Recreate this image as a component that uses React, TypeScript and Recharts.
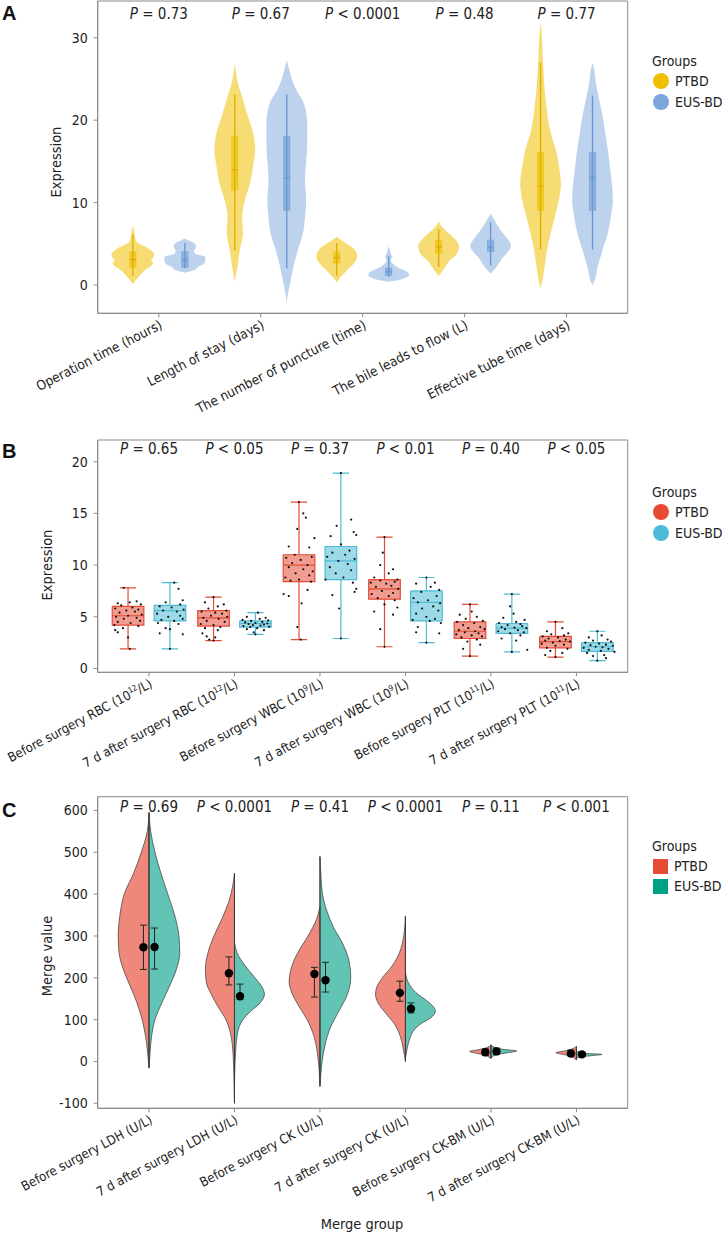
import React from "react";
import { ComposedChart, Area, Line, Scatter, XAxis, YAxis, ReferenceArea } from "recharts";

const FONT = "'DejaVu Sans Condensed', 'Liberation Sans', Arial, sans-serif";
const INK = "#222222";
const FRAME = "#8a8a8a";

type Prof = [number, number][];

// ---------- Panel A : violin + inner box ----------
const aCategories = [
  "Operation time (hours)",
  "Length of stay (days)",
  "The number of puncture (time)",
  "The bile leads to flow (L)",
  "Effective tube time (days)",
];
const aPValues = ["= 0.73", "= 0.67", "< 0.0001", "= 0.48", "= 0.77"];
// density profile: [value, half width]
const aPtbdViolin: Prof[] = [
  [[7.1, 0], [6.6, 0.012], [6.0, 0.02], [5.4, 0.03], [5.0, 0.06], [4.6, 0.13], [4.2, 0.18], [3.7, 0.21], [3.3, 0.2], [3.0, 0.18], [2.7, 0.2], [2.3, 0.18], [1.8, 0.12], [1.2, 0.07], [0.6, 0.03], [0.1, 0]],
  [[26.9, 0], [25.5, 0.015], [24.5, 0.03], [22.5, 0.08], [20.4, 0.13], [18.4, 0.18], [16.4, 0.2], [14.4, 0.18], [12.3, 0.15], [10.3, 0.1], [8.3, 0.072], [6.3, 0.08], [4.3, 0.05], [2.2, 0.026], [0.4, 0]],
  [[5.9, 0], [5.5, 0.04], [5.0, 0.1], [4.5, 0.16], [4.0, 0.19], [3.5, 0.2], [3.0, 0.19], [2.5, 0.16], [2.0, 0.12], [1.5, 0.08], [1.0, 0.04], [0.3, 0]],
  [[7.7, 0], [7.1, 0.03], [6.5, 0.08], [5.7, 0.15], [4.7, 0.2], [3.8, 0.18], [3.0, 0.11], [2.2, 0.065], [1.5, 0.025], [1.1, 0]],
  [[31.8, 0], [30.6, 0.01], [26.5, 0.026], [22.5, 0.05], [18.4, 0.1], [16.4, 0.15], [14.4, 0.18], [12.3, 0.2], [10.3, 0.18], [8.3, 0.14], [6.3, 0.1], [4.3, 0.065], [2.2, 0.04], [0.2, 0.013], [-0.4, 0]],
];
const aEusViolin: Prof[] = [
  [[5.6, 0], [5.4, 0.04], [5.0, 0.1], [4.6, 0.11], [4.2, 0.09], [3.8, 0.1], [3.4, 0.2], [3.0, 0.2], [2.6, 0.19], [2.2, 0.13], [1.8, 0.09], [1.5, 0]],
  [[27.3, 0], [26.5, 0.016], [25.0, 0.05], [23.5, 0.1], [22.5, 0.15], [21, 0.19], [19.5, 0.2], [17, 0.2], [15, 0.19], [13.2, 0.18], [12.3, 0.18], [10.3, 0.19], [8.3, 0.18], [6.3, 0.16], [4.3, 0.11], [2.2, 0.065], [0.2, 0.033], [-1.2, 0.01], [-2.2, 0]],
  [[4.7, 0], [4.3, 0.01], [3.8, 0.02], [3.4, 0.035], [3.0, 0.02], [2.6, 0.04], [2.2, 0.08], [1.8, 0.15], [1.5, 0.19], [1.2, 0.2], [0.9, 0.17], [0.6, 0.1], [0.4, 0]],
  [[8.7, 0], [8.0, 0.03], [7.2, 0.07], [6.3, 0.12], [5.5, 0.17], [4.8, 0.2], [4.0, 0.17], [3.2, 0.11], [2.4, 0.07], [1.8, 0.03], [1.4, 0]],
  [[26.9, 0], [26.5, 0.01], [24.5, 0.033], [22.5, 0.065], [20.4, 0.1], [18.4, 0.125], [16.4, 0.15], [14.4, 0.17], [12.3, 0.19], [10.3, 0.2], [8.3, 0.18], [6.3, 0.15], [4.3, 0.1], [2.2, 0.05], [0.2, 0.01], [0, 0]],
];
// [low, q1, median, q3, high]
const aPtbdBox = [[1.1, 2.1, 3.1, 4.1, 6.1], [4.2, 11.5, 14.0, 18.1, 23.1], [1.1, 2.6, 3.3, 4.1, 5.1], [2.2, 3.8, 4.6, 5.5, 6.8], [4.3, 9.0, 12.0, 16.1, 27.0]];
const aEusBox = [[2.0, 2.1, 3.1, 4.1, 5.1], [2.0, 9.0, 13.0, 18.1, 23.1], [1.0, 1.1, 1.6, 2.1, 3.5], [2.4, 4.0, 4.6, 5.5, 7.6], [4.3, 9.0, 13.0, 16.1, 23.0]];

// ---------- Panel B : box + jitter ----------
const bCategories = [
  "Before surgery RBC (10^12/L)",
  "7 d after surgery RBC (10^12/L)",
  "Before surgery WBC (10^9/L)",
  "7 d after surgery WBC (10^9/L)",
  "Before surgery PLT (10^11/L)",
  "7 d after surgery PLT (10^11/L)",
];
const bPValues = ["= 0.65", "< 0.05", "= 0.37", "< 0.01", "= 0.40", "< 0.05"];
const bPtbdBox = [[1.9, 4.2, 5.1, 6.0, 7.8], [2.7, 4.1, 4.9, 5.6, 6.9], [2.8, 8.4, 10.0, 11.0, 16.1], [2.1, 6.7, 7.7, 8.6, 12.7], [1.2, 2.9, 3.6, 4.5, 6.2], [1.1, 2.0, 2.6, 3.1, 4.5]];
const bEusBox = [[1.9, 4.6, 5.6, 6.1, 8.3], [3.3, 4.0, 4.35, 4.6, 5.4], [2.9, 8.6, 10.4, 11.8, 18.9], [2.5, 4.6, 6.4, 7.5, 8.8], [1.6, 3.4, 3.9, 4.35, 7.2], [0.75, 1.65, 2.1, 2.5, 3.6]];
// jittered observations: [offset, value]
const bPtbdPoints: Prof[] = [
  [[-0.05, 7.8], [0.1, 6.5], [0.02, 6.4], [-0.12, 6.3], [0.15, 6.2], [-0.08, 6.1], [0.05, 5.9], [-0.15, 5.8], [0.12, 5.7], [-0.02, 5.6], [0.08, 5.5], [-0.1, 5.4], [0.16, 5.2], [0.0, 5.1], [-0.14, 5.0], [0.1, 4.9], [-0.05, 4.8], [0.14, 4.6], [-0.12, 4.5], [0.03, 4.4], [-0.16, 4.2], [0.12, 4.1], [-0.06, 3.9], [-0.15, 3.7], [-0.12, 3.5], [0.0, 3.0], [0.02, 1.9]],
  [[0.0, 6.9], [-0.1, 6.4], [0.12, 6.2], [0.05, 6.0], [-0.06, 5.8], [0.15, 5.6], [-0.14, 5.5], [0.02, 5.4], [0.1, 5.3], [-0.03, 5.1], [0.16, 5.0], [-0.12, 4.9], [0.06, 4.8], [-0.08, 4.6], [0.13, 4.5], [-0.15, 4.3], [0.0, 4.2], [0.08, 4.0], [-0.1, 3.9], [0.05, 3.7], [-0.13, 3.4], [-0.08, 3.1], [0.02, 3.0], [-0.05, 2.8], [0.0, 2.7]],
  [[0.0, 16.1], [0.05, 15.0], [0.08, 14.6], [-0.02, 13.5], [0.18, 12.6], [-0.12, 11.8], [0.12, 11.7], [-0.05, 11.0], [0.15, 10.8], [-0.15, 10.7], [0.02, 10.5], [-0.08, 10.2], [0.1, 10.0], [-0.12, 9.8], [0.05, 9.6], [0.16, 9.4], [-0.04, 9.2], [0.12, 9.0], [-0.16, 8.8], [0.0, 8.6], [-0.1, 8.5], [0.14, 8.4], [-0.18, 7.2], [-0.12, 7.0], [0.1, 7.6], [0.03, 6.3], [-0.02, 4.0], [0.02, 2.8]],
  [[0.0, 12.7], [-0.02, 11.2], [-0.05, 10.0], [0.1, 9.6], [0.05, 9.2], [-0.12, 8.8], [0.15, 8.6], [-0.05, 8.5], [0.12, 8.4], [-0.16, 8.3], [0.02, 8.2], [0.08, 8.0], [-0.1, 7.9], [0.16, 7.7], [-0.03, 7.5], [0.1, 7.3], [-0.15, 7.2], [0.05, 7.0], [-0.08, 6.8], [0.12, 6.6], [0.0, 6.2], [0.15, 5.9], [-0.12, 5.5], [0.1, 5.2], [-0.05, 3.8], [0.0, 2.1]],
  [[0.0, 6.2], [0.02, 5.5], [-0.12, 5.2], [0.08, 5.0], [-0.05, 4.8], [0.15, 4.6], [-0.15, 4.5], [0.05, 4.4], [-0.08, 4.2], [0.12, 4.0], [-0.02, 3.9], [0.17, 3.8], [-0.13, 3.7], [0.06, 3.6], [-0.06, 3.5], [0.1, 3.4], [-0.16, 3.3], [0.02, 3.2], [0.14, 3.1], [-0.1, 3.0], [0.08, 2.8], [-0.03, 2.6], [0.12, 2.3], [-0.08, 1.9], [0.0, 1.2]],
  [[0.0, 4.5], [0.08, 3.9], [-0.1, 3.6], [0.15, 3.4], [-0.05, 3.3], [0.1, 3.2], [-0.15, 3.1], [0.03, 3.0], [-0.08, 2.9], [0.12, 2.8], [-0.12, 2.7], [0.05, 2.65], [0.17, 2.6], [-0.03, 2.5], [-0.16, 2.4], [0.1, 2.3], [0.0, 2.2], [-0.1, 2.0], [0.14, 1.9], [-0.06, 1.7], [0.08, 1.5], [-0.12, 1.3], [0.0, 1.1]],
];
const bEusPoints: Prof[] = [
  [[0.05, 8.3], [0.1, 7.7], [0.15, 6.6], [-0.05, 6.4], [0.12, 6.2], [-0.12, 6.0], [0.02, 5.9], [0.16, 5.7], [-0.08, 5.6], [0.08, 5.5], [-0.15, 5.3], [0.12, 5.1], [-0.02, 5.0], [0.15, 4.8], [-0.1, 4.7], [0.05, 4.6], [-0.14, 4.4], [0.1, 4.3], [-0.05, 3.9], [0.0, 3.8], [-0.12, 3.4], [0.15, 3.3], [0.0, 1.9]],
  [[0.03, 5.4], [-0.1, 5.0], [0.12, 4.9], [0.05, 4.8], [-0.15, 4.7], [0.15, 4.65], [-0.05, 4.6], [0.08, 4.5], [-0.12, 4.45], [0.0, 4.4], [0.14, 4.35], [-0.08, 4.3], [0.1, 4.25], [-0.03, 4.2], [0.06, 4.15], [-0.14, 4.1], [0.16, 4.05], [-0.06, 4.0], [0.02, 3.9], [-0.1, 3.8], [0.1, 3.7], [-0.02, 3.5], [0.0, 3.3]],
  [[0.0, 18.9], [0.12, 14.4], [-0.05, 13.8], [0.15, 13.2], [0.18, 12.9], [-0.12, 12.8], [0.0, 12.0], [0.1, 11.4], [-0.1, 11.2], [0.05, 11.0], [-0.16, 10.8], [0.16, 10.6], [-0.03, 10.4], [0.08, 10.1], [-0.13, 9.8], [0.12, 9.5], [-0.06, 9.2], [0.03, 8.8], [-0.18, 8.6], [0.14, 8.3], [0.18, 7.7], [0.16, 7.4], [-0.1, 7.1], [-0.02, 5.8], [0.0, 2.9]],
  [[0.0, 8.8], [0.1, 8.3], [-0.12, 8.2], [0.05, 7.9], [0.15, 7.6], [-0.06, 7.4], [0.12, 7.0], [-0.15, 6.8], [0.02, 6.6], [-0.1, 6.4], [0.16, 6.3], [0.08, 6.0], [-0.05, 5.8], [0.14, 5.6], [-0.12, 5.3], [0.0, 5.0], [0.1, 4.8], [-0.16, 4.7], [0.04, 4.6], [0.17, 4.4], [-0.1, 4.0], [0.15, 3.4], [-0.12, 3.5], [0.0, 2.5]],
  [[0.0, 7.2], [-0.02, 6.0], [0.02, 5.3], [-0.1, 4.9], [0.15, 4.7], [0.05, 4.5], [-0.15, 4.4], [0.1, 4.3], [-0.05, 4.2], [0.12, 4.1], [-0.12, 4.0], [0.03, 3.95], [0.17, 3.9], [-0.08, 3.8], [0.07, 3.7], [-0.16, 3.6], [0.14, 3.5], [-0.02, 3.4], [0.1, 3.2], [-0.12, 2.9], [0.05, 2.7], [0.18, 1.8], [0.0, 1.6]],
  [[0.0, 3.6], [0.05, 3.2], [-0.1, 3.0], [0.12, 2.8], [-0.05, 2.7], [0.16, 2.6], [-0.14, 2.5], [0.02, 2.4], [0.1, 2.3], [-0.08, 2.25], [0.18, 2.2], [-0.02, 2.1], [0.06, 2.05], [-0.16, 2.0], [0.13, 1.9], [-0.1, 1.8], [0.04, 1.7], [0.2, 1.6], [-0.12, 1.5], [0.08, 1.3], [-0.05, 1.2], [0.1, 1.0], [0.0, 0.75]],
];

// ---------- Panel C : split violin + mean/error ----------
const cCategories = [
  "Before surgery LDH (U/L)",
  "7 d after surgery LDH (U/L)",
  "Before surgery CK (U/L)",
  "7 d after surgery CK (U/L)",
  "Before surgery CK-BM (U/L)",
  "7 d after surgery CK-BM (U/L)",
];
const cPValues = ["= 0.69", "< 0.0001", "= 0.41", "< 0.0001", "= 0.11", "< 0.001"];
const cPtbdViolin: Prof[] = [
  [[595, 0], [550, 0.02], [500, 0.09], [450, 0.18], [400, 0.29], [350, 0.34], [300, 0.36], [260, 0.35], [220, 0.3], [180, 0.22], [140, 0.14], [100, 0.08], [60, 0.04], [20, 0.015], [-15, 0]],
  [[450, 0], [420, 0.02], [380, 0.07], [340, 0.15], [300, 0.24], [260, 0.31], [220, 0.34], [190, 0.33], [160, 0.27], [130, 0.19], [100, 0.1], [70, 0.05], [40, 0.025], [0, 0.012], [-50, 0.005], [-100, 0]],
  [[370, 0], [340, 0.04], [300, 0.14], [260, 0.26], [220, 0.34], [190, 0.36], [160, 0.32], [130, 0.24], [100, 0.15], [60, 0.07], [20, 0.03], [-20, 0.01], [-55, 0]],
  [[348, 0], [300, 0.02], [260, 0.07], [230, 0.15], [200, 0.27], [175, 0.34], [160, 0.35], [140, 0.32], [115, 0.23], [90, 0.13], [60, 0.06], [30, 0.025], [0, 0]],
  [[38, 0], [33, 0.05], [28, 0.15], [24, 0.25], [20, 0.18], [15, 0.07], [10, 0.02], [7, 0]],
  [[36, 0], [30, 0.05], [25, 0.14], [21, 0.24], [17, 0.16], [12, 0.06], [7, 0.02], [4, 0]],
];
const cEusViolin: Prof[] = [
  [[595, 0], [550, 0.02], [500, 0.07], [450, 0.14], [400, 0.22], [350, 0.3], [300, 0.35], [260, 0.36], [220, 0.32], [180, 0.24], [140, 0.15], [100, 0.07], [60, 0.03], [20, 0.012], [-15, 0]],
  [[285, 0], [260, 0.03], [230, 0.12], [200, 0.24], [175, 0.33], [160, 0.35], [140, 0.3], [120, 0.19], [100, 0.1], [80, 0.05], [60, 0.03], [30, 0.015], [0, 0.007], [-50, 0]],
  [[490, 0], [450, 0.01], [400, 0.03], [360, 0.08], [320, 0.16], [280, 0.27], [240, 0.34], [200, 0.36], [160, 0.32], [120, 0.22], [80, 0.12], [40, 0.06], [0, 0.025], [-30, 0.01], [-60, 0]],
  [[215, 0], [190, 0.03], [165, 0.12], [145, 0.25], [130, 0.33], [120, 0.35], [105, 0.3], [90, 0.18], [75, 0.1], [60, 0.06], [40, 0.03], [20, 0.01], [10, 0]],
  [[40, 0], [34, 0.04], [29, 0.14], [25, 0.3], [21, 0.2], [16, 0.06], [10, 0.01], [8, 0]],
  [[26, 0], [22, 0.04], [19, 0.12], [17, 0.3], [14, 0.18], [11, 0.06], [8, 0]],
];
const cPtbdMean = [273, 211, 209, 164, 22, 19];
const cPtbdLow = [220, 183, 154, 144, 14, 13];
const cPtbdHigh = [326, 250, 225, 192, 30, 27];
const cEusMean = [273.5, 156, 194, 126, 24, 17];
const cEusLow = [221, 148, 166, 116, 17, 13];
const cEusHigh = [319, 185, 237, 140, 32, 22];

// ---------- helpers ----------
type Seg = [number, number][];

const fullViolin = (p: Prof, c: number) => p.map(([y, w]) => ({ y, x: [c - w, c + w] }));
const halfViolin = (p: Prof, c: number, side: number) => p.map(([y, w]) => ({ y, x: [c, c + side * w] }));
const boxFill = (b: number[], c: number, hw: number) => [
  { y: b[3], x: [c - hw, c + hw] },
  { y: b[1], x: [c - hw, c + hw] },
];
const segRows = (s: Seg) => s.map(([x, y]) => ({ x, y }));

function segLines(segs: Seg[], prefix: string, stroke: string, width: number) {
  return segs.map((s, i) => (
    <Line key={`${prefix}${i}`} data={segRows(s)} dataKey="x" type="linear" stroke={stroke} strokeWidth={width}
      dot={false} activeDot={false} isAnimationActive={false} />
  ));
}

function catTick(labels: string[], angle: number, fontSize: number) {
  return (props: any) => {
    const { x, y, payload } = props;
    const label = labels[Math.round(payload.value) - 1] ?? "";
    const m = label.match(/^(.*)\^(\d+)(.*)$/);
    return (
      <g transform={`translate(${x},${y})`}>
        <text textAnchor="end" transform={`rotate(${angle})`} dy="0.72em" fontSize={fontSize} fontFamily={FONT} fill={INK}>
          {m ? (
            <>
              <tspan>{m[1]}</tspan>
              <tspan dy={-5} fontSize={fontSize * 0.62}>{m[2]}</tspan>
              <tspan dy={5}>{m[3]}</tspan>
            </>
          ) : label}
        </text>
      </g>
    );
  };
}

function pTick(labels: string[], drop: number) {
  return (props: any) => {
    const { x, y, payload } = props;
    const label = labels[Math.round(payload.value) - 1] ?? "";
    return (
      <text x={x} y={y + drop} dy="0.35em" textAnchor="middle" fontSize={15} fontFamily={FONT} fill={INK}>
        <tspan fontStyle="italic">P</tspan>
        <tspan>{" " + label}</tspan>
      </text>
    );
  };
}

const dot = (r: number, color: string) => (p: any) => <circle cx={p.cx} cy={p.cy} r={r} fill={color} />;

const yTick = { fill: INK, fontSize: 14, fontFamily: FONT };

function Legend({ top, colors, square }: { top: number; colors: string[]; square?: boolean }) {
  const names = ["PTBD", "EUS-BD"];
  return (
    <div style={{ position: "absolute", left: 652, top, fontSize: 14, color: INK, whiteSpace: "nowrap" }}>
      <div style={{ height: 20, lineHeight: "20px" }}>Groups</div>
      {names.map((n, i) => (
        <div key={n} style={{ display: "flex", alignItems: "center", height: square ? 20 : 20.5 }}>
          <span
            style={{
              display: "inline-block",
              flex: "none",
              width: square ? 15 : 16,
              height: square ? 15 : 16,
              borderRadius: square ? 0 : 8,
              background: colors[i],
              marginRight: 6,
              marginLeft: 1,
            }}
          />
          <span>{n}</span>
        </div>
      ))}
    </div>
  );
}

const Letter = ({ t, top }: { t: string; top: number }) => (
  <div style={{ position: "absolute", left: 2, top, fontSize: 20, fontWeight: 700, fontFamily: "'Liberation Sans', Arial, sans-serif", color: "#111" }}>{t}</div>
);

const VTitle = ({ t, cx, cy }: { t: string; cx: number; cy: number }) => (
  <div style={{ position: "absolute", left: cx, top: cy, transform: "translate(-50%,-50%) rotate(-90deg)", whiteSpace: "nowrap", fontSize: 14.5, color: INK }}>{t}</div>
);

const axisCommon = {
  stroke: FRAME,
  tickLine: { stroke: FRAME },
  axisLine: { stroke: FRAME },
};

// ---------- panels ----------
function PanelA() {
  const off = 0.255;
  const hw = 0.03;
  const yellow = "#EFC000";
  const blue = "#7AA6DC";
  const boxSegs = (boxes: number[][], o: number): Seg[] =>
    boxes.flatMap((b, i) => {
      const c = i + 1 + o;
      return [[[c, b[0]], [c, b[4]]], [[c - hw, b[2]], [c + hw, b[2]]]] as Seg[];
    });
  return (
    <div style={{ position: "absolute", left: 0, top: 0 }}>
      <ComposedChart layout="vertical" width={722} height={440} margin={{ top: 1, right: 94.3, left: 0, bottom: 0 }}>
        <XAxis xAxisId={0} type="number" dataKey="x" domain={[0.4, 5.6]} ticks={[1, 2, 3, 4, 5]} interval={0} allowDataOverflow height={126.7}
          tickSize={4} tickMargin={2} tick={catTick(aCategories, -27, 13.5)} {...axisCommon} />
        <XAxis xAxisId="top" orientation="top" mirror type="number" domain={[0.4, 5.6]} ticks={[1, 2, 3, 4, 5]} interval={0} allowDataOverflow
          axisLine={false} tickLine={false} tickSize={0} tickMargin={0} tick={pTick(aPValues, 13)} />
        <YAxis type="number" dataKey="y" reversed domain={[-3.43, 34.45]} ticks={[0, 10, 20, 30]} allowDataOverflow width={97.7}
          tickSize={4} tickMargin={6} tick={yTick} {...axisCommon} />
        <ReferenceArea x1={0.4} x2={5.6} y1={-3.43} y2={34.45} fill="none" stroke={FRAME} ifOverflow="visible" />
        {aPtbdViolin.map((p, i) => (
          <Area key={`ap${i}`} data={fullViolin(p, i + 1 - off)} dataKey="x" type="monotone" stroke="none" fill={yellow} fillOpacity={0.55} dot={false} activeDot={false} isAnimationActive={false} />
        ))}
        {aEusViolin.map((p, i) => (
          <Area key={`ae${i}`} data={fullViolin(p, i + 1 + off)} dataKey="x" type="monotone" stroke="none" fill={blue} fillOpacity={0.5} dot={false} activeDot={false} isAnimationActive={false} />
        ))}
        {aPtbdBox.map((b, i) => (
          <Area key={`apb${i}`} data={boxFill(b, i + 1 - off, hw)} dataKey="x" type="linear" stroke={yellow} strokeOpacity={0.6} fill={yellow} fillOpacity={0.6} dot={false} activeDot={false} isAnimationActive={false} />
        ))}
        {aEusBox.map((b, i) => (
          <Area key={`aeb${i}`} data={boxFill(b, i + 1 + off, hw)} dataKey="x" type="linear" stroke="#6a98d6" strokeOpacity={0.6} fill="#6a98d6" fillOpacity={0.55} dot={false} activeDot={false} isAnimationActive={false} />
        ))}
        {segLines(boxSegs(aPtbdBox, -off), "apl", "#DDB000", 1.4)}
        {segLines(boxSegs(aEusBox, off), "ael", "#6a98d6", 1.4)}
      </ComposedChart>
    </div>
  );
}

function boxSegments(boxes: number[][], off: number, hw: number, cw: number): Seg[] {
  return boxes.flatMap((b, i) => {
    const c = i + 1 + off;
    return [
      [[c - hw, b[3]], [c + hw, b[3]], [c + hw, b[1]], [c - hw, b[1]], [c - hw, b[3]]],
      [[c - hw, b[2]], [c + hw, b[2]]],
      [[c, b[1]], [c, b[0]]],
      [[c - cw, b[0]], [c + cw, b[0]]],
      [[c, b[3]], [c, b[4]]],
      [[c - cw, b[4]], [c + cw, b[4]]],
    ] as Seg[];
  });
}

function PanelB() {
  const off = 0.245;
  const hw = 0.185;
  const cw = 0.095;
  const red = "#E64B35";
  const cyan = "#4DBBD5";
  const ptbdPts = bPtbdPoints.flatMap((pts, i) => pts.map(([dx, y]) => ({ x: i + 1 - off + dx, y })));
  const eusPts = bEusPoints.flatMap((pts, i) => pts.map(([dx, y]) => ({ x: i + 1 + off + dx, y })));
  return (
    <div style={{ position: "absolute", left: 0, top: 400 }}>
      <ComposedChart layout="vertical" width={722} height={380} margin={{ top: 40, right: 94.3, left: 0, bottom: 0 }}>
        <XAxis xAxisId={0} type="number" dataKey="x" domain={[0.4, 6.6]} ticks={[1, 2, 3, 4, 5, 6]} interval={0} allowDataOverflow height={107.7}
          tickSize={4} tickMargin={2} tick={catTick(bCategories, -28, 13)} {...axisCommon} />
        <XAxis xAxisId="top" orientation="top" mirror type="number" domain={[0.4, 6.6]} ticks={[1, 2, 3, 4, 5, 6]} interval={0} allowDataOverflow
          axisLine={false} tickLine={false} tickSize={0} tickMargin={0} tick={pTick(bPValues, 9)} />
        <YAxis type="number" dataKey="y" reversed domain={[-0.37, 22.1]} ticks={[0, 5, 10, 15, 20]} allowDataOverflow width={97.7}
          tickSize={4} tickMargin={6} tick={yTick} {...axisCommon} />
        <ReferenceArea x1={0.4} x2={6.6} y1={-0.37} y2={22.1} fill="none" stroke={FRAME} ifOverflow="visible" />
        {bPtbdBox.map((b, i) => (
          <Area key={`bp${i}`} data={boxFill(b, i + 1 - off, hw)} dataKey="x" type="linear" stroke="none" fill={red} fillOpacity={0.55} dot={false} activeDot={false} isAnimationActive={false} />
        ))}
        {bEusBox.map((b, i) => (
          <Area key={`be${i}`} data={boxFill(b, i + 1 + off, hw)} dataKey="x" type="linear" stroke="none" fill={cyan} fillOpacity={0.55} dot={false} activeDot={false} isAnimationActive={false} />
        ))}
        {segLines(boxSegments(bPtbdBox, -off, hw, cw), "bpl", red, 1.2)}
        {segLines(boxSegments(bEusBox, off, hw, cw), "bel", cyan, 1.2)}
        <Scatter data={ptbdPts} shape={dot(1.1, "#111")} isAnimationActive={false} />
        <Scatter data={eusPts} shape={dot(1.1, "#111")} isAnimationActive={false} />
      </ComposedChart>
    </div>
  );
}

function PanelC() {
  const off = 0.065;
  const cw = 0.04;
  const red = "#E64B35";
  const green = "#00A087";
  const centerSegs: Seg[] = cPtbdViolin.map((p, i) => {
    const q = cEusViolin[i];
    const hi = Math.max(p[0][0], q[0][0]);
    const lo = Math.min(p[p.length - 1][0], q[q.length - 1][0]);
    return [[i + 1, hi], [i + 1, lo]];
  });
  const errSegs = (mean: number[], low: number[], high: number[], o: number): Seg[] =>
    mean.flatMap((_, i) => {
      const c = i + 1 + o;
      return [
        [[c, low[i]], [c, high[i]]],
        [[c - cw, low[i]], [c + cw, low[i]]],
        [[c - cw, high[i]], [c + cw, high[i]]],
      ] as Seg[];
    });
  const means = [
    ...cPtbdMean.map((m, i) => ({ x: i + 1 - off, y: m })),
    ...cEusMean.map((m, i) => ({ x: i + 1 + off, y: m })),
  ];
  return (
    <div style={{ position: "absolute", left: 0, top: 780 }}>
      <ComposedChart layout="vertical" width={722} height={450} margin={{ top: 16.7, right: 94.3, left: 0, bottom: 0 }}>
        <XAxis xAxisId={0} type="number" dataKey="x" domain={[0.4, 6.6]} ticks={[1, 2, 3, 4, 5, 6]} interval={0} allowDataOverflow height={121.7}
          tickSize={4} tickMargin={2} tick={catTick(cCategories, -28, 13)} {...axisCommon} />
        <XAxis xAxisId="top" orientation="top" mirror type="number" domain={[0.4, 6.6]} ticks={[1, 2, 3, 4, 5, 6]} interval={0} allowDataOverflow
          axisLine={false} tickLine={false} tickSize={0} tickMargin={0} tick={pTick(cPValues, 10)} />
        <YAxis type="number" dataKey="y" reversed domain={[-112, 633]} ticks={[-100, 0, 100, 200, 300, 400, 500, 600]} allowDataOverflow width={97.7}
          tickSize={4} tickMargin={6} tick={yTick} {...axisCommon} />
        <ReferenceArea x1={0.4} x2={6.6} y1={-112} y2={633} fill="none" stroke={FRAME} ifOverflow="visible" />
        {cPtbdViolin.map((p, i) => (
          <Area key={`cp${i}`} data={halfViolin(p, i + 1, -1)} dataKey="x" type="monotone" stroke="#4a4a4a" strokeWidth={0.8} fill={red} fillOpacity={0.66} dot={false} activeDot={false} isAnimationActive={false} />
        ))}
        {cEusViolin.map((p, i) => (
          <Area key={`ce${i}`} data={halfViolin(p, i + 1, 1)} dataKey="x" type="monotone" stroke="#4a4a4a" strokeWidth={0.8} fill={green} fillOpacity={0.62} dot={false} activeDot={false} isAnimationActive={false} />
        ))}
        {segLines(centerSegs, "cc", "#3a3a3a", 1)}
        {segLines(errSegs(cPtbdMean, cPtbdLow, cPtbdHigh, -off), "cpe", "#222", 1)}
        {segLines(errSegs(cEusMean, cEusLow, cEusHigh, off), "cee", "#222", 1)}
        <Scatter data={means} shape={dot(4.2, "#000")} isAnimationActive={false} />
      </ComposedChart>
    </div>
  );
}

export default function App() {
  return (
    <div style={{ position: "absolute", left: 0, top: 0, width: 722, height: 1234, overflow: "hidden", background: "#fff", fontFamily: FONT, color: INK }}>
      <PanelA />
      <PanelB />
      <PanelC />
      <Letter t="A" top={2} />
      <Letter t="B" top={440} />
      <Letter t="C" top={799} />
      <VTitle t="Expression" cx={56} cy={162} />
      <VTitle t="Expression" cx={47} cy={565} />
      <VTitle t="Merge value" cx={47} cy={956} />
      <div style={{ position: "absolute", left: 362, top: 1224, transform: "translate(-50%,-50%)", fontSize: 14.5, whiteSpace: "nowrap" }}>Merge group</div>
      <Legend top={51} colors={["#EFC000", "#7AA6DC"]} />
      <Legend top={482} colors={["#E64B35", "#4DBBD5"]} />
      <Legend top={836} colors={["#E64B35", "#00A087"]} square />
    </div>
  );
}
